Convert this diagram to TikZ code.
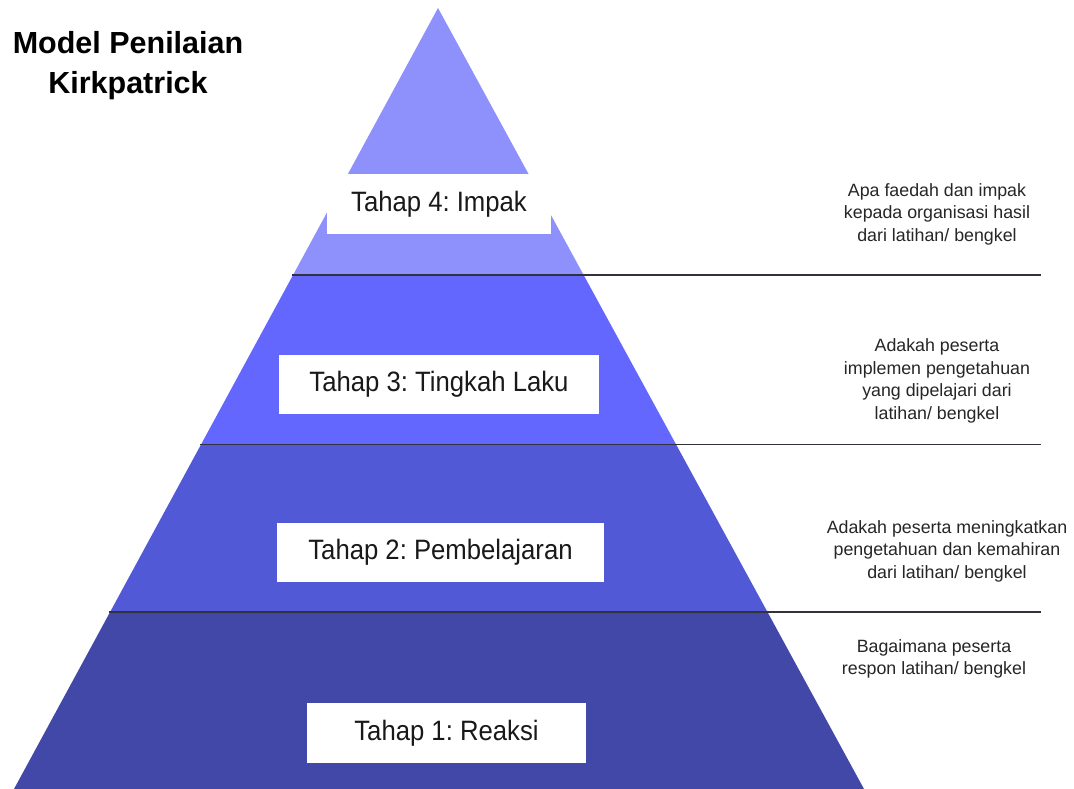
\documentclass[tikz,border=0pt]{standalone}
\usepackage{fontspec}
\setmainfont{Liberation Sans}
\usepackage{graphicx}
\frenchspacing
\definecolor{lvfour}{RGB}{142,145,252}
\definecolor{lvthree}{RGB}{99,103,254}
\definecolor{lvtwo}{RGB}{82,89,214}
\definecolor{lvone}{RGB}{66,72,168}
\definecolor{sepcol}{RGB}{50,50,60}
\tikzset{
  levelbox/.style={fill=white, draw=none, inner sep=0pt, font=\fontsize{25.7}{28}\selectfont, text=black!90},
  desc/.style={align=center, inner sep=0pt, font=\fontsize{17.8}{22.5}\selectfont, text=black!85},
  sepline/.style={draw=sepcol, line width=1.3pt},
}
\newcommand{\tallbox}[1]{\scalebox{1}[1.09]{#1}}
\begin{document}
\begin{tikzpicture}[x=1pt, y=-1pt]
\frenchspacing
\useasboundingbox (0,0) rectangle (1074,789);
\fill[white] (0,0) rectangle (1074,789);
\coordinate (apex) at (438,8);
\coordinate (bl) at (14,789);
\coordinate (br) at (864,789);
\begin{scope}
  \clip (apex) -- (bl) -- (br) -- cycle;
  \fill[lvfour] (0,0) rectangle (1074,275);
  \fill[lvthree] (0,275) rectangle (1074,444.5);
  \fill[lvtwo] (0,444.5) rectangle (1074,612);
  \fill[lvone] (0,612) rectangle (1074,789);
\end{scope}
% separators
\coordinate (s3a) at (292,275);  \coordinate (s3b) at (1041,275);
\coordinate (s2a) at (200,444.5);  \coordinate (s2b) at (1041,444.5);
\coordinate (s1a) at (109,612);  \coordinate (s1b) at (1041,612);
\draw[sepline] (s3a) -- (s3b);
\draw[sepline] (s2a) -- (s2b);
\draw[sepline] (s1a) -- (s1b);
% level boxes
\node[levelbox, minimum width=224pt, minimum height=60pt] (t4) at (439,204) {\tallbox{Tahap 4: Impak}};
\node[levelbox, minimum width=320pt, minimum height=59pt] (t3) at (439,384.5) {\tallbox{Tahap 3: Tingkah Laku}};
\node[levelbox, minimum width=327pt, minimum height=59pt] (t2) at (440.5,552.5) {\tallbox{Tahap 2: Pembelajaran}};
\node[levelbox, minimum width=279pt, minimum height=60pt] (t1) at (446.5,733) {\tallbox{Tahap 1: Reaksi}};
% title
\node[align=center, font=\fontsize{30.5}{40}\selectfont\bfseries, inner sep=0pt] (title) at (128,66) {Model Penilaian\\Kirkpatrick};
% descriptions
\node[desc] (d4) at (937,214) {Apa faedah dan impak\\kepada organisasi hasil\\dari latihan/ bengkel};
\node[desc] (d3) at (937,381) {Adakah peserta\\implemen pengetahuan\\yang dipelajari dari\\latihan/ bengkel};
\node[desc] (d2) at (947,551) {Adakah peserta meningkatkan\\pengetahuan dan kemahiran\\dari latihan/ bengkel};
\node[desc] (d1) at (934,659) {Bagaimana peserta\\respon latihan/ bengkel};
\end{tikzpicture}
\end{document}
